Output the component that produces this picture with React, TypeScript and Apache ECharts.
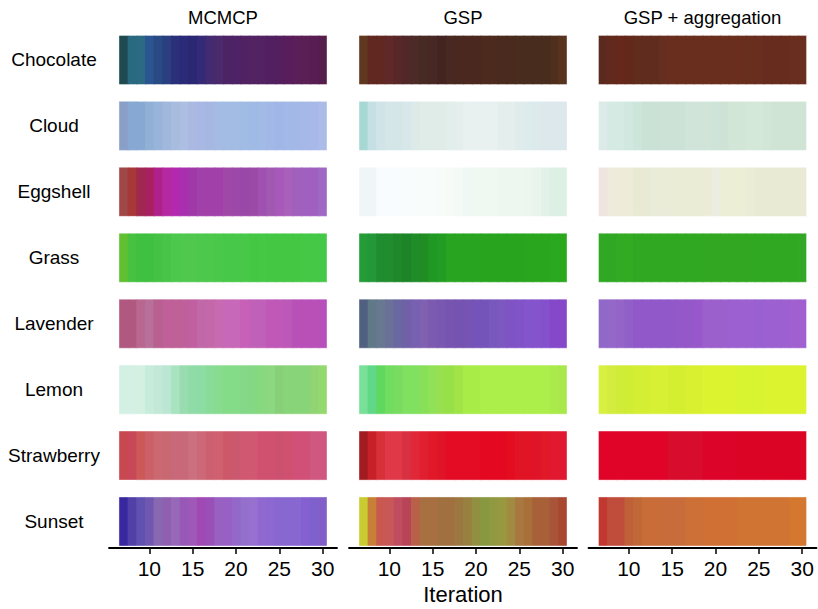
import React, { useEffect, useRef } from "react";
import * as echarts from "echarts";

const rows = ["Chocolate", "Cloud", "Eggshell", "Grass", "Lavender", "Lemon", "Strawberry", "Sunset"];
const panels = ["MCMCP", "GSP", "GSP + aggregation"];
const iterations = [7, 8, 9, 10, 11, 12, 13, 14, 15, 16, 17, 18, 19, 20, 21, 22, 23, 24, 25, 26, 27, 28, 29, 30];
const tickValues = [10, 15, 20, 25, 30];
const xAxisTitle = "Iteration";

// ---- MCMCP ----
const mcmcpChocolate = ["#1e4a50", "#2a6a80", "#2b6a82", "#2b5590", "#2a4a86", "#2a3f80", "#2a307a", "#2a2a78", "#2a2872", "#352a78", "#442a70", "#4a2a6a", "#4c2466", "#4e2266", "#502264", "#522262", "#532262", "#522060", "#541f5e", "#581e5c", "#5a1e58", "#5a1f55", "#581e54", "#561d4c"];
const mcmcpCloud = ["#8a9fc8", "#86a8d2", "#86a8d2", "#90b0d6", "#98b4da", "#a0b8dc", "#a8bce0", "#acbfe2", "#aab8e2", "#a8b8e4", "#a6b8e2", "#a4bce4", "#a2bce4", "#a2bce4", "#a0bce4", "#a0bae6", "#a2bae6", "#a2b8e6", "#a0b6e6", "#a2b8e6", "#a4b8e8", "#a6b8e8", "#a8b8e8", "#acbce8"];
const mcmcpEggshell = ["#a04848", "#a83838", "#a02850", "#a82060", "#b0208a", "#b428a0", "#b428b0", "#a830b0", "#a038a8", "#a040a8", "#a040a8", "#a040a8", "#a048a8", "#9c48a8", "#9a48a8", "#9c4aa8", "#a050b0", "#a058b0", "#a858b8", "#a860bc", "#a060bc", "#a060c0", "#a060c0", "#a068c4"];
const mcmcpGrass = ["#60c030", "#48c040", "#40c040", "#40c040", "#44c244", "#48c448", "#4cc84c", "#50c850", "#50c84e", "#4cc84c", "#4cc84a", "#4ac84a", "#48c848", "#48c848", "#48c848", "#44c844", "#44c846", "#44c844", "#44c844", "#44c844", "#44c844", "#44c846", "#44c846", "#44c848"];
const mcmcpLavender = ["#b05880", "#b05880", "#b86890", "#b8709a", "#b86090", "#c06098", "#c06098", "#c0609a", "#c060a0", "#c068a8", "#c468aa", "#c86ab0", "#c868b8", "#c868b8", "#c860b8", "#c060b8", "#c060b8", "#c058b8", "#c058b8", "#bc58b8", "#b850b8", "#b850b8", "#b850b8", "#b850bc"];
const mcmcpLemon = ["#d4f0e4", "#d4f0e4", "#d4f0e0", "#c8ecdc", "#c4e8d8", "#bce6d4", "#a8e4c0", "#98dcb0", "#90dca8", "#8cdca4", "#88dc98", "#88dc90", "#84dc88", "#84dc88", "#84d888", "#84d884", "#88d880", "#8cd880", "#88d078", "#88d478", "#88d478", "#88d478", "#90d474", "#94d870"];
const mcmcpStrawberry = ["#c84850", "#c84858", "#cc5858", "#cc6068", "#cc6870", "#c86870", "#c86878", "#c86878", "#cc7080", "#cc6878", "#cc6070", "#d06070", "#cc5868", "#cc5870", "#d05870", "#d05870", "#d05070", "#d05070", "#cc5070", "#d05070", "#d05078", "#d05078", "#d05880", "#d05880"];
const mcmcpSunset = ["#3828a0", "#5040a8", "#6050b0", "#7058b0", "#8868b0", "#9060b0", "#9868b8", "#9858b8", "#a058b8", "#a048b4", "#9850b8", "#9860c0", "#9860c4", "#9468c8", "#9470cc", "#9870d0", "#9068d0", "#8c68d0", "#8868d0", "#8868d0", "#8868d0", "#8460d0", "#8060cc", "#8060c8"];

// ---- GSP ----
const gspChocolate = ["#603820", "#602820", "#602820", "#602828", "#582828", "#502828", "#4c2a26", "#482a24", "#482824", "#442420", "#482820", "#4a2820", "#4a2820", "#4a2820", "#4c2a1e", "#4c2a1e", "#4a2a1e", "#4a2a1e", "#482c1e", "#482c1e", "#482c1e", "#482c1e", "#502e1e", "#58341e"];
const gspCloud = ["#a8d8d4", "#c4e0e4", "#d0e4e8", "#d4e6e8", "#d4e6e8", "#d8e8ea", "#dceae8", "#e0ece8", "#e0ece8", "#e0ece8", "#e2eeec", "#e4eeec", "#e8f0f0", "#e8f0f0", "#e8f0f0", "#e8f0f0", "#e4eeec", "#e4eeec", "#e0ecec", "#dcecec", "#dceaec", "#dce8ec", "#dce8ec", "#dce8ec"];
const gspEggshell = ["#f0f6f8", "#f0f6f8", "#f8fcfe", "#f8fcfe", "#f8fcfe", "#f8fcfc", "#f8fcfc", "#f8fcfa", "#f8fcfa", "#f8fcf8", "#f6fbf7", "#f4faf6", "#f0f8f4", "#f0f8f2", "#f0f8f2", "#f0f8f2", "#eef6f0", "#eef6f0", "#eef6f0", "#ecf6ee", "#e8f4ec", "#e2f2e8", "#dcf0e4", "#dcf0e4"];
const gspGrass = ["#249c38", "#249838", "#208c30", "#208c2c", "#1e882a", "#1e8428", "#208c28", "#208c24", "#229824", "#229c22", "#28a420", "#28a420", "#28a420", "#28a420", "#28a41e", "#28a41e", "#28a41e", "#28a41e", "#2aa41e", "#2aa61e", "#2aa61e", "#2aa61e", "#2aa81e", "#2aa81e"];
const gspLavender = ["#506080", "#607888", "#687890", "#6a7098", "#6a68a0", "#7060a8", "#7860b0", "#8060b0", "#7c5ab0", "#7858b0", "#7654b0", "#7454b0", "#7654b4", "#7454b8", "#7454b8", "#7858bc", "#7c58c0", "#7e54c4", "#8054c8", "#8454cc", "#8454cc", "#8450cc", "#8448c8", "#8448c8"];
const gspLemon = ["#78e098", "#60d888", "#60d860", "#70dc60", "#78dc60", "#80e060", "#80e060", "#88e058", "#90e058", "#98e050", "#98e048", "#a0e448", "#a8ec48", "#a8ec48", "#acee4a", "#acee4a", "#acee4a", "#acee4a", "#acee4a", "#acee4a", "#acee4a", "#acee4a", "#aaea4a", "#a8e84a"];
const gspStrawberry = ["#a01c20", "#c82028", "#d83038", "#e03848", "#e03848", "#d83040", "#e02838", "#e02030", "#e01828", "#e01428", "#e40c24", "#e40c24", "#e40c24", "#e40c24", "#e40820", "#e40820", "#e40820", "#e40c20", "#e01424", "#e01424", "#e01428", "#e01828", "#e01830", "#e01830"];
const gspSunset = ["#c8cc30", "#c88038", "#c85850", "#c85858", "#c04c60", "#b84458", "#b86048", "#a87040", "#a87040", "#a07040", "#a07040", "#9c7840", "#988040", "#909040", "#889840", "#909840", "#989840", "#a08c40", "#a87840", "#a87038", "#a86038", "#a86038", "#a85438", "#a84830"];

// ---- GSP + aggregation ----
const aggChocolate = ["#5a2a1e", "#622a1c", "#66281a", "#64281a", "#602c1c", "#602c1e", "#602c1e", "#662e1e", "#6a2e1e", "#6a2e1e", "#6a2e1e", "#6a2e1e", "#6a2e1e", "#6a2e1e", "#6a2e1e", "#6a2e1e", "#6a2e1e", "#682e1e", "#682e1e", "#682c1e", "#662c1e", "#682c1e", "#6a2e1e", "#6a2e1e"];
const aggCloud = ["#dceae8", "#d4eae2", "#d4eae2", "#d0e8e0", "#cce6dc", "#cae2d6", "#cae2d6", "#cce2d6", "#cce2d6", "#cce2d6", "#d0e4da", "#d0e4da", "#d0e4d8", "#cee4d8", "#cee2d6", "#d2e6d8", "#d2e6d8", "#d4e8da", "#d4e8da", "#d2e6d8", "#d0e4d6", "#d0e4d6", "#d0e4d6", "#d0e4d6"];
const aggEggshell = ["#f0e4e0", "#eeeadc", "#eeecd8", "#eeecd8", "#e8ead4", "#e8ead4", "#e8ecd8", "#eaecd8", "#eaecd8", "#eaecd6", "#eaecd6", "#eaecd6", "#ececd6", "#ecece0", "#eceed6", "#eceed6", "#eceed6", "#eaecd6", "#e8ead4", "#e8ead4", "#e8ead4", "#e8ead4", "#e8ead4", "#e8ead4"];
const aggGrass = ["#30a824", "#30a824", "#32aa24", "#32aa22", "#30a822", "#30a822", "#30a822", "#30a822", "#30a822", "#30a822", "#30a822", "#30a822", "#32a822", "#32a822", "#32a822", "#32a822", "#32a822", "#32a822", "#30a822", "#30a822", "#30a822", "#30a822", "#30a822", "#34a826"];
const aggLavender = ["#9068c8", "#9468c8", "#9464c8", "#9060c8", "#9058c8", "#9058c8", "#9058c8", "#9058c8", "#9058c8", "#9458c8", "#9458c8", "#9858cc", "#9c60cc", "#9c60cc", "#9c60cc", "#9c60d0", "#9c60d0", "#9c60d0", "#9860d0", "#9c60d0", "#9c60d0", "#9c60d0", "#a060d0", "#a060d0"];
const aggLemon = ["#d8f040", "#d4ec40", "#d0ec38", "#d0ec34", "#d4ee34", "#d4ee34", "#d8f034", "#d8f034", "#d4ee30", "#d4ee30", "#d8f030", "#d8f030", "#dcf430", "#dcf430", "#dcf430", "#dcf430", "#d8f430", "#d8f430", "#d8f430", "#dcf430", "#dcf430", "#dcf430", "#dcf430", "#dcf430"];
const aggStrawberry = ["#e00428", "#e00428", "#e00428", "#e00428", "#e00428", "#e00428", "#e00428", "#e00428", "#d80c2c", "#d80c2c", "#d80c2c", "#d80c2c", "#dc0428", "#dc0428", "#dc0428", "#dc0428", "#dc0424", "#dc0424", "#dc0424", "#dc0424", "#dc0424", "#dc0424", "#dc0424", "#dc0424"];
const aggSunset = ["#c03830", "#c04c3c", "#c04c3c", "#c06038", "#c06838", "#c86c38", "#c86c38", "#c86c3c", "#c86c3c", "#c86c3c", "#cc7038", "#cc7038", "#d07034", "#d07034", "#d07034", "#d07034", "#d07434", "#d07434", "#d07434", "#d07434", "#d07434", "#d07434", "#d47830", "#d47830"];

const panelColors = [
  [mcmcpChocolate, mcmcpCloud, mcmcpEggshell, mcmcpGrass, mcmcpLavender, mcmcpLemon, mcmcpStrawberry, mcmcpSunset],
  [gspChocolate, gspCloud, gspEggshell, gspGrass, gspLavender, gspLemon, gspStrawberry, gspSunset],
  [aggChocolate, aggCloud, aggEggshell, aggGrass, aggLavender, aggLemon, aggStrawberry, aggSunset],
];

const FONT = "'Liberation Sans', Arial, Helvetica, sans-serif";
const GRID_LEFTS = [109, 349, 588.5];
const GRID_W = 228;
const GRID_TOP = 27;
const GRID_H = 521;
const HALF = 0.372;

export default function App() {
  const ref = useRef<HTMLDivElement>(null);

  useEffect(() => {
    if (!ref.current) return;
    const chart = echarts.init(ref.current, null, { renderer: "svg" });

    const grids = GRID_LEFTS.map((left) => ({
      left,
      top: GRID_TOP,
      width: GRID_W,
      height: GRID_H,
      containLabel: false,
      outerBoundsMode: "none",
    }));

    const xAxes = panels.map((_, p) => ({
      type: "value",
      gridIndex: p,
      min: 5.35,
      max: 31.65,
      axisLine: { show: true, onZero: false, lineStyle: { color: "#000", width: 1.8 } },
      axisTick: { show: true, length: 6, customValues: tickValues, lineStyle: { color: "#000", width: 1.5 } },
      axisLabel: { show: true, customValues: tickValues, fontSize: 21, color: "#000", fontFamily: FONT, margin: 10 },
      splitLine: { show: false },
    }));

    const yAxes = panels.map((_, p) => ({
      type: "value",
      gridIndex: p,
      inverse: true,
      min: -0.5,
      max: 7.402,
      axisLine: { show: false, onZero: false },
      axisTick: { show: false },
      splitLine: { show: false },
      axisLabel:
        p === 0
          ? {
              show: true,
              customValues: rows.map((_, i) => i),
              formatter: (v: number) => rows[Math.round(v)] ?? "",
              align: "center",
              margin: 55,
              fontSize: 19,
              color: "#000",
              fontFamily: FONT,
            }
          : { show: false },
    }));

    const series: any[] = [];
    const lastIt = iterations[iterations.length - 1];
    panels.forEach((_, p) => {
      const data: number[][] = [];
      const cols: string[] = [];
      rows.forEach((_, r) => {
        iterations.forEach((it, i) => {
          data.push([it, r]);
          cols.push(panelColors[p][r][i]);
        });
      });
      series.push({
        type: "custom",
        xAxisIndex: p,
        yAxisIndex: p,
        data,
        silent: true,
        renderItem: (params: any, api: any) => {
          const x = api.value(0);
          const y = api.value(1);
          const a = api.coord([x - 0.5, y - HALF]);
          const b = api.coord([x + 0.5, y + HALF]);
          const c = cols[params.dataIndex];
          const extra = x < lastIt ? 1.2 : 0;
          return {
            type: "rect",
            shape: {
              x: Math.min(a[0], b[0]),
              y: Math.min(a[1], b[1]),
              width: Math.abs(b[0] - a[0]) + extra,
              height: Math.abs(b[1] - a[1]),
            },
            style: { fill: c },
          };
        },
      });
      // light frame around each strip
      series.push({
        type: "custom",
        xAxisIndex: p,
        yAxisIndex: p,
        data: rows.map((_, r) => [iterations[0], r]),
        silent: true,
        z: 3,
        renderItem: (params: any, api: any) => {
          const y = api.value(1);
          const a = api.coord([iterations[0] - 0.5, y - HALF]);
          const b = api.coord([lastIt + 0.5, y + HALF]);
          return {
            type: "rect",
            shape: {
              x: Math.min(a[0], b[0]),
              y: Math.min(a[1], b[1]),
              width: Math.abs(b[0] - a[0]),
              height: Math.abs(b[1] - a[1]),
            },
            style: { fill: "none", stroke: "rgba(255,255,255,0.4)", lineWidth: 1 },
          };
        },
      });
    });

    const centers = GRID_LEFTS.map((l) => l + GRID_W / 2);
    const graphics: any[] = panels.map((t, p) => ({
      type: "text",
      x: centers[p],
      y: 17.5,
      style: { text: t, align: "center", verticalAlign: "middle", fontSize: 18.5, fontFamily: FONT, fill: "#000" },
    }));
    graphics.push({
      type: "text",
      x: centers[1],
      y: 594,
      style: { text: xAxisTitle, align: "center", verticalAlign: "middle", fontSize: 22, fontFamily: FONT, fill: "#000" },
    });

    chart.setOption({
      animation: false,
      backgroundColor: "#fff",
      grid: grids,
      xAxis: xAxes,
      yAxis: yAxes,
      series,
      graphic: graphics,
    });

    return () => chart.dispose();
  }, []);

  return <div ref={ref} style={{ position: "fixed", left: 0, top: 0, width: 818, height: 609 }} />;
}
